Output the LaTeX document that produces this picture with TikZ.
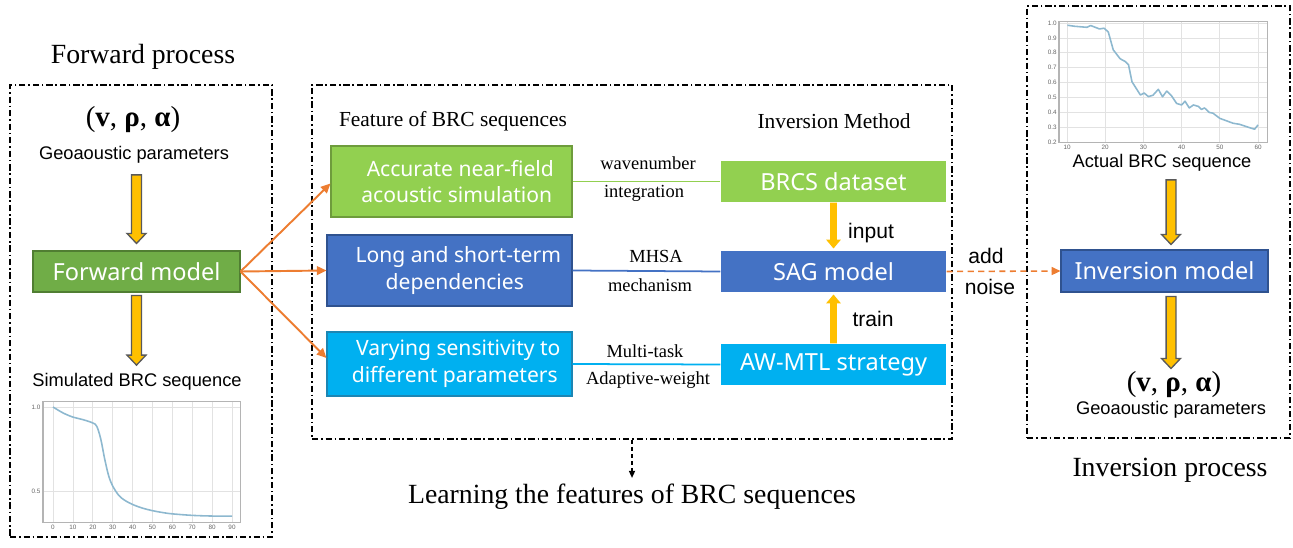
\documentclass[tikz,border=0pt]{standalone}
\usepackage{fontspec}
\setmainfont{Liberation Serif}
\setsansfont{Liberation Sans}
\newfontfamily\boxfont{Noto Sans}
\usetikzlibrary{arrows.meta,calc}

\definecolor{fwdgreen}{HTML}{70AD47}
\definecolor{fwdgreenD}{HTML}{507E32}
\definecolor{lgreen}{HTML}{92D050}
\definecolor{lgreenD}{HTML}{6E9C3C}
\definecolor{mblue}{HTML}{4472C4}
\definecolor{mblueD}{HTML}{2F528F}
\definecolor{cyanB}{HTML}{00B0F0}
\definecolor{cyanD}{HTML}{1C86B4}
\definecolor{yellowA}{HTML}{FFC000}
\definecolor{orangeA}{HTML}{ED7D31}
\definecolor{curveC}{HTML}{8DB8CF}
\definecolor{gridC}{HTML}{E2E2E2}
\definecolor{axisC}{HTML}{B4B4B4}

% vertical block arrow: style, start, tip, half shaft, half head, head length
\newcommand\blockarrow[6]{%
  \path[#1] let \p1=(#2), \p2=(#3), \p3=($(#3)!#6!(#2)$) in
    (\x1-#4,\y1) -- (\x1-#4,\y3) -- (\x1-#5,\y3) -- (\x1,\y2)
    -- (\x1+#5,\y3) -- (\x1+#4,\y3) -- (\x1+#4,\y1) -- cycle;}

\begin{document}
\begin{tikzpicture}[x=0.02cm,y=-0.02cm,
  every node/.style={inner sep=0pt},
  wh/.style 2 args={minimum width={#1*0.02cm}, minimum height={#2*0.02cm}},
  frame/.style={draw=black, line width=0.9pt,
    dash pattern=on 3.6pt off 1.6pt on 0.9pt off 1.6pt},
  title/.style={font=\fontsize{15.8}{18}\selectfont},
  method/.style={font=\fontsize{12.2}{14}\selectfont},
  clabel/.style={font=\fontsize{10.5}{12}\selectfont},
  slabel/.style={font=\sffamily\fontsize{10.4}{12}\selectfont},
  alabel/.style={font=\sffamily\fontsize{12}{14}\selectfont},
  param/.style={font=\fontsize{16.5}{18}\selectfont},
  box/.style={text=white, align=center, line width=0.6pt,
    font=\boxfont\fontsize{13.4}{16}\selectfont},
  twoline/.style={font=\boxfont\fontsize{12}{15.3}\selectfont},
  ya/.style={fill=yellowA, draw=black!65, line width=0.75pt},
  yb/.style={fill=yellowA},
  oarrow/.style={draw=orangeA, line width=1.1pt, -{Triangle[length=5.5pt,width=5pt]}},
  odash/.style={draw=orangeA, line width=0.9pt, dash pattern=on 3.5pt off 2.5pt,
    -{Triangle[length=5pt,width=4.5pt]}},
  ldash/.style={draw=black, line width=0.7pt, dash pattern=on 2.5pt off 1.5pt,
    -{Triangle[length=4pt,width=3.5pt]}},
  cline/.style={line width=1pt},
  tick/.style={font=\sffamily\fontsize{3.6}{4}\selectfont, text=black!60},
  curve/.style={draw=curveC, line width=0.9pt},
  grid/.style={draw=gridC, line width=0.4pt},
  axis/.style={draw=axisC, line width=0.6pt}]
\useasboundingbox (0,0) rectangle (1293,547);

% ---------- dash-dot frames ----------
\node[frame, wh={262}{452}] (lframe) at (141,311) {};
\node[frame, wh={640}{354}] (cframe) at (632,262) {};
\node[frame, wh={263}{432}] (rframe) at (1158.5,222) {};

% ---------- forward process ----------
\node[title] (fwdt) at (143,57) {Forward process};
\node[param] (par1) at (133,120) {(\textbf{v}, \textbf{ρ}, \textbf{α})};
\node[slabel] (geo1) at (134,155) {Geoaoustic parameters};
\node[box, fill=fwdgreen, draw=fwdgreenD, wh={207}{41}] (fwd) at (136.5,271.5) {Forward model};
\node[slabel] (sim) at (137,382) {Simulated BRC sequence};

\blockarrow{ya}{$(fwd.north |- geo1.south)+(0,11)$}{$(fwd.north)+(0,-7)$}{2.8pt}{5.4pt}{5.7pt}
\blockarrow{ya}{$(fwd.south)+(0,3)$}{$(fwd.south |- sim.north)+(0,-8)$}{2.8pt}{5.4pt}{5.7pt}

% simulated BRC curve
\begin{scope}[shift={(53,575)}, xscale=1.989, yscale=-168]
  \foreach \t in {0,10,...,90}{
    \draw[grid] (\t,0.315) -- (\t,1.03);
    \node[tick, anchor=north] (sx\t) at (\t,0.30) {\t};
  }
  \foreach \v in {0.5,1.0}{
    \draw[grid] (-5.03,\v) -- (94.5,\v);
    \node[tick, anchor=east] (sy\v) at (-6.2,\v) {\v};
  }
  \draw[axis] (-5.03,0.315) rectangle (94.5,1.03);
  \draw[curve] plot[smooth, tension=0.55] coordinates {
    (0,1.0) (5,0.965) (10,0.94) (15,0.925) (20,0.905) (22,0.885)
    (24,0.81) (26,0.69) (28,0.59) (30,0.53) (33,0.475) (36,0.445)
    (40,0.42) (45,0.398) (50,0.383) (55,0.372) (60,0.364) (70,0.355)
    (80,0.351) (90,0.35)};
\end{scope}

% ---------- feature learning ----------
\node[method] (feat) at (453,121) {Feature of BRC sequences};
\node[method] (meth) at (834,121) {Inversion Method};

\node[box, twoline, fill=lgreen, draw=lgreenD, wh={241}{71}] (b1) at (451.5,181.5)
  {\hspace*{10pt}Accurate near-field\\\hspace*{6pt}acoustic simulation};
\node[box, twoline, fill=mblue, draw=mblueD, wh={245}{71}] (b2) at (449.5,270.5)
  {\hspace*{10pt}Long and short-term\\\hspace*{6pt}dependencies};
\node[box, twoline, fill=cyanB, draw=cyanD, wh={245}{64}] (b3) at (449.5,364)
  {\hspace*{10pt}Varying sensitivity to\\\hspace*{6pt}different parameters};

\node[box, fill=lgreen, wh={225}{41}] (brcs) at (833.5,181.5) {BRCS dataset};
\node[box, fill=mblue, wh={225}{41}] (sag) at (833.5,271.5) {SAG model};
\node[box, fill=cyanB, wh={225}{41}] (aw) at (833.5,364.5) {AW-MTL strategy};

\draw[cline, lgreen] (b1.east) -- (brcs.west);
\draw[cline, mblue] (b2.east) -- (sag.west);
\draw[cline, cyanB] (b3.east) -- (aw.west);

\node[clabel] (wn) at (648,163) {wavenumber};
\node[clabel] (ig) at (644,193) {integration};
\node[clabel] (mh) at (656,256) {MHSA};
\node[clabel] (me) at (650,285) {mechanism};
\node[clabel] (mt) at (645,351) {Multi-task};
\node[clabel] (ad) at (648,380) {Adaptive-weight};

\blockarrow{yb}{$(brcs.south)$}{$(sag.north)+(0,-2)$}{1.9pt}{4.2pt}{5pt}
\blockarrow{yb}{$(aw.north)$}{$(sag.south)+(0,2)$}{1.9pt}{4.2pt}{5pt}
\node[alabel] (inp) at (871,233) {input};
\node[alabel] (trn) at (873,319) {train};

\draw[oarrow] (fwd.east) -- ($(b1.west)+(0,2)$);
\draw[oarrow] (fwd.east) -- (b2.west);
\draw[oarrow] (fwd.east) -- ($(b3.west)+(0,-6)$);

\node[title] (learn) at (632,497) {Learning the features of BRC sequences};
\draw[ldash] (cframe.south) -- ($(learn.north)+(0,-6)$);

% ---------- inversion process ----------
\node[box, fill=mblue, draw=mblueD, wh={207}{42}] (inv) at (1164.5,271) {Inversion model};
\node[slabel] (act) at (1162,163) {Actual BRC sequence};
\node[param] (par2) at (1174,385) {(\textbf{v}, \textbf{ρ}, \textbf{α})};
\node[slabel] (geo2) at (1171,410) {Geoaoustic parameters};
\node[title] (invt) at (1170,470) {Inversion process};

\blockarrow{ya}{$(geo2 |- act.south)+(0,8)$}{$(geo2 |- inv.north)+(0,-5)$}{2.8pt}{5.4pt}{5.7pt}
\blockarrow{ya}{$(geo2 |- inv.south)+(0,4)$}{$(geo2 |- par2.north)+(0,-3)$}{2.8pt}{5.4pt}{5.7pt}

\draw[odash] (sag.east) -- (inv.west);
\node[alabel] (add) at (986,256) {add};
\node[alabel] (noise) at (990,287) {noise};

% actual BRC curve
\begin{scope}[shift={(1028.8,172)}, xscale=3.82, yscale=-149]
  \foreach \t in {10,20,...,60}{
    \draw[grid] (\t,0.195) -- (\t,1.013);
    \node[tick, anchor=north] (ax\t) at (\t,0.18) {\t};
  }
  \foreach \v in {0.2,0.3,0.4,0.5,0.6,0.7,0.8,0.9,1.0}{
    \draw[grid] (7.9,\v) -- (62.4,\v);
    \node[tick, anchor=east] (ay\v) at (7.4,\v) {\v};
  }
  \draw[axis] (7.9,0.195) rectangle (62.4,1.013);
  \draw[curve, line join=round] plot coordinates {
    (10.1,0.985) (12,0.978) (15.2,0.971) (16.2,0.983) (18.5,0.96)
    (19.7,0.965) (20.8,0.94) (22.1,0.82) (23.9,0.76) (25.2,0.742)
    (26.1,0.72) (27,0.606) (29.2,0.517) (30.2,0.53) (31.3,0.506)
    (32.5,0.515) (33.9,0.555) (35,0.505) (36.1,0.543) (37.4,0.51)
    (38.7,0.46) (40,0.45) (40.9,0.475) (42,0.43) (43.1,0.45)
    (44.4,0.44) (45.2,0.42) (46,0.43) (47.2,0.40) (48.2,0.395)
    (50,0.36) (53.5,0.327) (55.2,0.32) (56.9,0.305) (59.1,0.287) (60,0.316)};
\end{scope}
\end{tikzpicture}
\end{document}
